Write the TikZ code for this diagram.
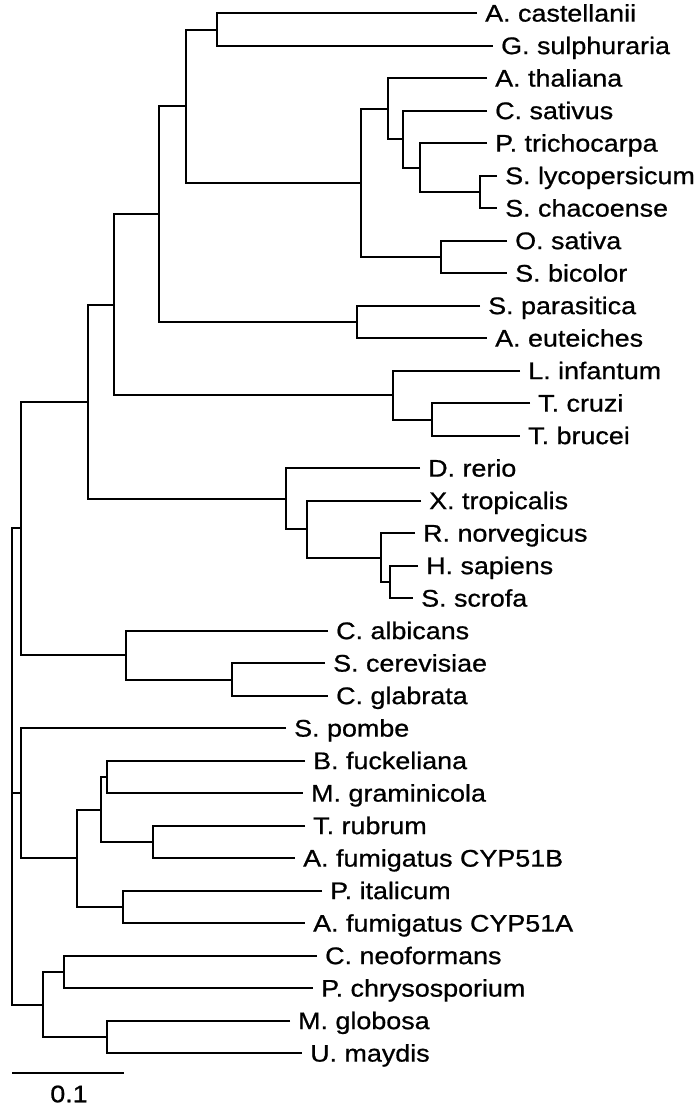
\documentclass[tikz,border=0pt]{standalone}
\usepackage{fontspec}
\setmainfont{Liberation Sans}[FakeStretch=1.12,FakeBold=0.8]
\usetikzlibrary{calc}
\tikzset{
  br/.style={line width=2pt, line join=miter, draw=black},
  lab/.style={anchor=base west, inner sep=0pt, font=\fontsize{24}{29}\selectfont},
}
\newcommand\mkclade[4]{%
  \path let \p1=($(#3)!0.5!(#4)$) in (#2pt,\y1) coordinate (#1);
  \draw[br] (#3) -| (#1) |- (#4);
}
\begin{document}
\begin{tikzpicture}[x=1pt,y=-1pt]
\useasboundingbox (0,0) rectangle (700,1107);
\foreach \i/\x/\t in {0/477/A. castellanii,1/493/G. sulphuraria,2/487/A. thaliana,3/487/C. sativus,4/487/P. trichocarpa,5/497/S. lycopersicum,6/497/S. chacoense,7/507/O. sativa,8/507/S. bicolor,9/480/S. parasitica,10/487/A. euteiches,11/520/L. infantum,12/530/T. cruzi,13/520/T. brucei,14/420/D. rerio,15/421/X. tropicalis,16/415/R. norvegicus,17/418/H. sapiens,18/413/S. scrofa,19/328/C. albicans,20/325/S. cerevisiae,21/328/C. glabrata,22/286/S. pombe,23/305/B. fuckeliana,24/303/M. graminicola,25/305/T. rubrum,26/295/A. fumigatus CYP51B,27/322/P. italicum,28/305/A. fumigatus CYP51A,29/317/C. neoformans,30/313/P. chrysosporium,31/290/M. globosa,32/302/U. maydis}{
  \coordinate (t\i) at (\x,{13.3+32.5*\i});
  \node[lab] (l\i) at ({\x+8},{13.3+32.5*\i+8.3}) {\t};
}
\mkclade{n1}{217}{t0}{t1}
\mkclade{nsl}{480}{t5}{t6}
\mkclade{npt}{420}{t4}{nsl}
\mkclade{ncs}{403}{t3}{npt}
\mkclade{nat}{388}{t2}{ncs}
\mkclade{nmono}{441}{t7}{t8}
\mkclade{nplant}{361}{nat}{nmono}
\mkclade{n2}{186}{n1}{nplant}
\mkclade{noo}{357}{t9}{t10}
\mkclade{n3}{159}{n2}{noo}
\mkclade{ntc}{432}{t12}{t13}
\mkclade{ntryp}{393}{t11}{ntc}
\mkclade{n4}{114}{n3}{ntryp}
\mkclade{nhs}{390}{t17}{t18}
\mkclade{nmam}{381}{t16}{nhs}
\mkclade{nxt}{307}{t15}{nmam}
\mkclade{nvert}{286}{t14}{nxt}
\mkclade{n5}{88}{n4}{nvert}
\mkclade{nsc}{232}{t20}{t21}
\mkclade{nyeast}{126}{t19}{nsc}
\mkclade{n6}{21}{n5}{nyeast}
\mkclade{nbf}{107}{t23}{t24}
\mkclade{ntr}{153}{t25}{t26}
\mkclade{nbm}{101}{nbf}{ntr}
\mkclade{npi}{123}{t27}{t28}
\mkclade{npezi}{77}{nbm}{npi}
\mkclade{n7}{21}{t22}{npezi}
\mkclade{ncn}{64}{t29}{t30}
\mkclade{nmg}{107}{t31}{t32}
\mkclade{n8}{43}{ncn}{nmg}
\path let \p1=(n7) in (12pt,\y1) coordinate (root);
\draw[br] (n6) -| (root) |- (n8);
\draw[br] (root) -- (n7);
% scale bar
\coordinate (sb1) at (12,1072.7);
\coordinate (sb2) at (124,1072.7);
\draw[br] (sb1) -- (sb2);
\node[inner sep=0pt, font=\fontsize{24}{29}\selectfont] (sbl) at (69,1094) {0.1};
\end{tikzpicture}
\end{document}
